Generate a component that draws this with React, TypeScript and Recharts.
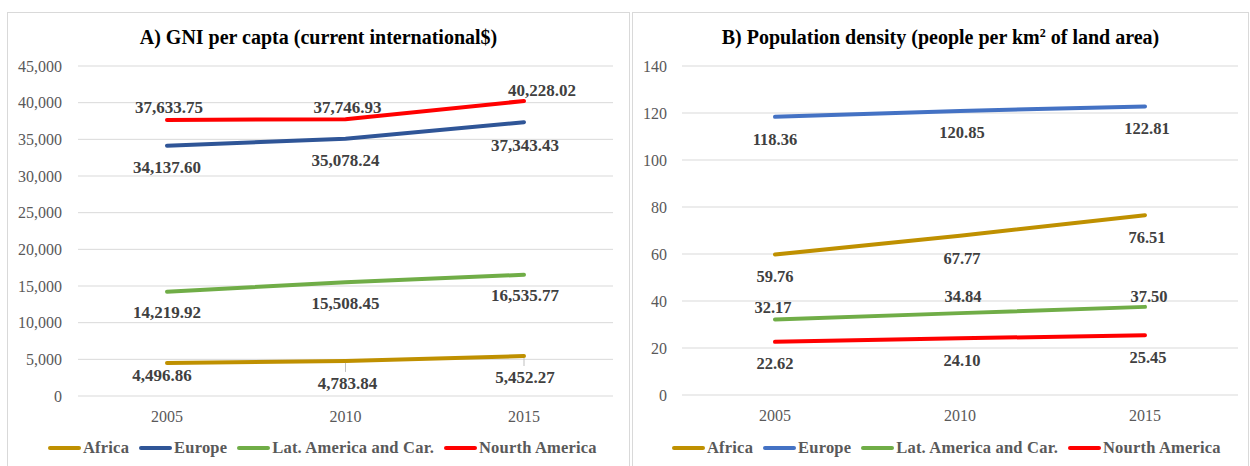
import React from 'react';
import { LineChart, Line, XAxis, YAxis, CartesianGrid, LabelList } from 'recharts';

// ---------- data ----------
const years = ['2005', '2010', '2015'];
const seriesNames = ['Africa', 'Europe', 'Lat. America and Car.', 'Nourth America'];

const gniAfrica = [4496.86, 4783.84, 5452.27];
const gniEurope = [34137.6, 35078.24, 37343.43];
const gniLatAm = [14219.92, 15508.45, 16535.77];
const gniNorthAm = [37633.75, 37746.93, 40228.02];

const densAfrica = [59.76, 67.77, 76.51];
const densEurope = [118.36, 120.85, 122.81];
const densLatAm = [32.17, 34.84, 37.5];
const densNorthAm = [22.62, 24.1, 25.45];

const gniTicks = [0, 5000, 10000, 15000, 20000, 25000, 30000, 35000, 40000, 45000];
const densTicks = [0, 20, 40, 60, 80, 100, 120, 140];

// ---------- styles ----------
const SERIF = "'Liberation Serif', 'Times New Roman', serif";
const gniColors = ['#BF9000', '#2F5597', '#70AD47', '#FF0000'];
const densColors = ['#BF9000', '#4472C4', '#70AD47', '#FF0000'];
const GRID = '#D9D9D9';
const AXIS_TEXT = '#595959';
const LABEL_TEXT = '#404040';

// label placement relative to each point: [dx, dy, leader]
const gniLabelPlacement: [number, number, boolean][][] = [
  [[-5, 12, false], [2, 22, true], [1, 21, true]],
  [[0, 22, false], [0, 22, false], [1, 23, false]],
  [[0, 21, false], [0, 21, false], [1, 21, false]],
  [[2, -13, false], [2, -12, false], [18, -11, false]],
];
const densLabelPlacement: [number, number, boolean][][] = [
  [[0, 22, false], [2, 23, false], [2, 22, false]],
  [[0, 23, false], [2, 22, false], [2, 22, false]],
  [[-2, -12, false], [3, -17, false], [4, -10, false]],
  [[0, 22, false], [2, 22, false], [3, 22, false]],
];

const withCommas = (s: string) => s.replace(/\B(?=(\d{3})+(?!\d))/g, ',');
const fmtGni = (v: number) => {
  const [a, b] = v.toFixed(2).split('.');
  return withCommas(a) + '.' + b;
};
const fmtDens = (v: number) => v.toFixed(2);
const fmtGniTick = (v: number) => withCommas(String(v));

const gniData = years.map((year, i) => ({
  year,
  s0: gniAfrica[i],
  s1: gniEurope[i],
  s2: gniLatAm[i],
  s3: gniNorthAm[i],
}));
const densData = years.map((year, i) => ({
  year,
  s0: densAfrica[i],
  s1: densEurope[i],
  s2: densLatAm[i],
  s3: densNorthAm[i],
}));

const makeLabel =
  (placement: [number, number, boolean][], fmt: (v: number) => string, fontSize: number) =>
  (props: any) => {
    const { index, value } = props;
    const x = props.x ?? props.viewBox?.x;
    const y = props.y ?? props.viewBox?.y;
    if (x == null || y == null || index == null) return null;
    const [dx, dy, leader] = placement[index];
    const cy = y + dy;
    return (
      <g>
        {leader && (
          <line x1={x} x2={x} y1={y + 2} y2={cy - 11} stroke="#BFBFBF" strokeWidth={1} />
        )}
        <text
          x={x + dx}
          y={cy + fontSize * 0.33}
          textAnchor="middle"
          fontFamily={SERIF}
          fontWeight="bold"
          fontSize={fontSize}
          fill={LABEL_TEXT}
        >
          {fmt(Number(value))}
        </text>
      </g>
    );
  };

const Legend = ({ colors, left }: { colors: string[]; left: number }) => (
  <div
    style={{
      position: 'absolute',
      left,
      top: 438,
      display: 'flex',
      alignItems: 'center',
      height: 20,
      fontFamily: SERIF,
      fontWeight: 'bold',
      fontSize: 16.5,
      letterSpacing: 0.2,
      color: AXIS_TEXT,
      whiteSpace: 'nowrap',
    }}
  >
    {seriesNames.map((name, i) => (
      <div key={name} style={{ display: 'flex', alignItems: 'center', marginRight: 10 }}>
        <div style={{ width: 33, height: 4, borderRadius: 2, background: colors[i], marginRight: 2 }} />
        <span style={{ lineHeight: '20px' }}>{name}</span>
      </div>
    ))}
  </div>
);

const Panel = ({ left, width }: { left: number; width: number }) => (
  <div
    style={{
      position: 'absolute',
      left,
      top: 12,
      width,
      height: 470,
      border: `1px solid ${GRID}`,
      boxSizing: 'border-box',
      background: '#fff',
    }}
  />
);

const Title = ({ left, width, children }: { left: number; width: number; children: React.ReactNode }) => (
  <div
    style={{
      position: 'absolute',
      left,
      top: 25,
      width,
      textAlign: 'center',
      fontFamily: SERIF,
      fontWeight: 'bold',
      fontSize: 20,
      lineHeight: '24px',
      color: '#000',
      whiteSpace: 'nowrap',
    }}
  >
    {children}
  </div>
);

const tickStyle = { fontFamily: SERIF, fontSize: 16, fill: AXIS_TEXT };

export default function App() {
  return (
    <div
      style={{
        position: 'absolute',
        left: 0,
        top: 0,
        width: 1250,
        height: 466,
        overflow: 'hidden',
        background: '#fff',
      }}
    >
      <Panel left={7} width={623} />
      <Panel left={632} width={617} />
      <Title left={7} width={623}>
        A) GNI per capta (current international$)
      </Title>
      <Title left={632} width={617}>
        B) Population density (people per km
        <sup style={{ fontSize: '0.6em', lineHeight: 0, verticalAlign: '0.6em' }}>2</sup> of land area)
      </Title>

      <div style={{ position: 'absolute', left: 0, top: 0 }}>
        <LineChart width={625} height={466} data={gniData} margin={{ top: 66, right: 12, bottom: 40, left: 8 }}>
          <CartesianGrid vertical={false} stroke={GRID} strokeWidth={1} />
          <XAxis
            dataKey="year"
            axisLine={false}
            tickLine={false}
            height={30}
            tickMargin={9}
            padding={{ left: 89, right: 89 }}
            tick={tickStyle}
            interval={0}
          />
          <YAxis
            width={70}
            domain={[0, 45000]}
            ticks={gniTicks}
            interval={0}
            axisLine={false}
            tickLine={false}
            tickMargin={10}
            tick={tickStyle}
            tickFormatter={fmtGniTick}
          />
          {['s0', 's1', 's2', 's3'].map((k, i) => (
            <Line
              key={k}
              dataKey={k}
              name={seriesNames[i]}
              stroke={gniColors[i]}
              strokeWidth={4}
              strokeLinecap="round"
              dot={false}
              activeDot={false}
              isAnimationActive={false}
            >
              <LabelList dataKey={k} content={makeLabel(gniLabelPlacement[i], fmtGni, 17)} />
            </Line>
          ))}
        </LineChart>
      </div>

      <div style={{ position: 'absolute', left: 625, top: 0 }}>
        <LineChart width={625} height={466} data={densData} margin={{ top: 66, right: 12, bottom: 41, left: 7 }}>
          <CartesianGrid vertical={false} stroke={GRID} strokeWidth={1} />
          <XAxis
            dataKey="year"
            axisLine={false}
            tickLine={false}
            height={30}
            tickMargin={9}
            padding={{ left: 93, right: 93 }}
            tick={tickStyle}
            interval={0}
          />
          <YAxis
            width={50}
            domain={[0, 140]}
            ticks={densTicks}
            interval={0}
            axisLine={false}
            tickLine={false}
            tickMargin={9}
            tick={tickStyle}
          />
          {['s0', 's1', 's2', 's3'].map((k, i) => (
            <Line
              key={k}
              dataKey={k}
              name={seriesNames[i]}
              stroke={densColors[i]}
              strokeWidth={4}
              strokeLinecap="round"
              dot={false}
              activeDot={false}
              isAnimationActive={false}
            >
              <LabelList dataKey={k} content={makeLabel(densLabelPlacement[i], fmtDens, 16.5)} />
            </Line>
          ))}
        </LineChart>
      </div>

      <Legend colors={gniColors} left={48} />
      <Legend colors={densColors} left={672} />
    </div>
  );
}
